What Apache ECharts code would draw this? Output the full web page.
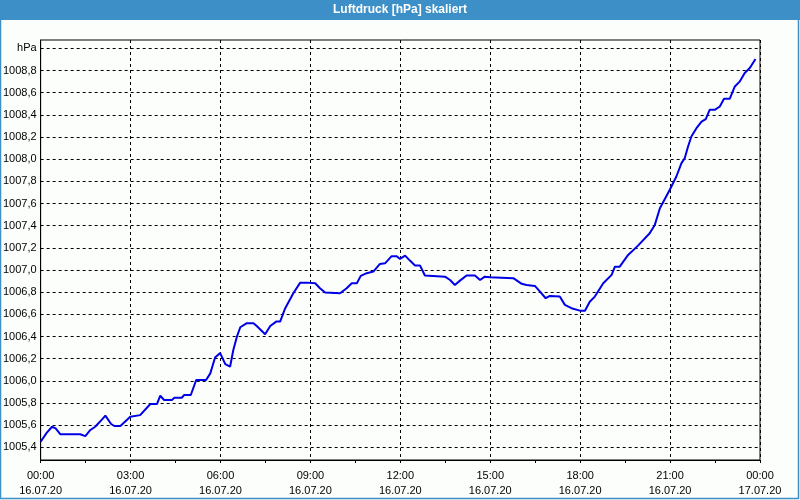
<!DOCTYPE html>
<html>
<head>
<meta charset="utf-8">
<script src="https://cdn.jsdelivr.net/npm/echarts@6/dist/echarts.min.js"></script>
<style>
html,body{margin:0;padding:0;background:#fcfefc;}
#c{width:800px;height:500px;}
</style>
</head>
<body>
<div id="c"></div>
<script>
// time in hours since 16.07.20 00:00
const times = [0.00,0.20,0.38,0.50,0.66,1.32,1.49,1.55,1.66,1.82,2.05,2.16,2.35,2.46,2.66,2.99,3.05,3.32,3.66,3.88,
  3.99,4.12,4.38,4.46,4.71,4.79,5.01,5.19,5.52,5.66,5.82,5.99,6.16,6.32,6.43,6.55,6.66,6.88,7.10,7.21,
  7.49,7.66,7.86,7.99,8.16,8.43,8.66,8.88,9.16,9.32,9.49,9.99,10.21,10.38,10.55,10.68,10.88,11.10,11.32,11.49,
  11.71,11.88,11.99,12.16,12.32,12.49,12.66,12.82,13.49,13.66,13.82,13.99,14.21,14.49,14.66,14.82,14.99,15.77,16.05,16.21,
  16.49,16.66,16.85,16.99,17.32,17.49,17.71,17.99,18.16,18.32,18.49,18.77,19.05,19.16,19.32,19.60,19.93,20.32,20.49,20.66,
  20.99,21.21,21.38,21.49,21.60,21.71,21.88,22.05,22.19,22.32,22.49,22.66,22.80,22.99,23.16,23.32,23.49,23.66,23.85];
const pressure = [1005.45,1005.53,1005.585,1005.57,1005.517,1005.517,1005.50,1005.50,1005.556,1005.585,1005.652,1005.685,1005.61,1005.592,1005.592,1005.676,1005.685,1005.69,1005.79,1005.79,
  1005.865,1005.827,1005.827,1005.847,1005.847,1005.872,1005.872,1006.007,1006.007,1006.067,1006.21,1006.25,1006.15,1006.127,1006.28,1006.40,1006.483,1006.52,1006.52,1006.495,
  1006.42,1006.495,1006.534,1006.534,1006.655,1006.79,1006.886,1006.886,1006.88,1006.835,1006.796,1006.79,1006.835,1006.88,1006.88,1006.947,1006.971,1006.986,1007.055,1007.06,
  1007.125,1007.125,1007.10,1007.13,1007.085,1007.04,1007.04,1006.95,1006.94,1006.91,1006.865,1006.904,1006.95,1006.95,1006.91,1006.94,1006.935,1006.926,1006.875,1006.865,
  1006.856,1006.805,1006.745,1006.766,1006.76,1006.685,1006.655,1006.633,1006.633,1006.714,1006.76,1006.88,1006.956,1007.03,1007.03,1007.136,1007.22,1007.332,1007.407,1007.558,
  1007.724,1007.844,1007.965,1008.01,1008.115,1008.205,1008.28,1008.34,1008.362,1008.446,1008.446,1008.476,1008.545,1008.545,1008.657,1008.70,1008.778,1008.823,1008.904];
const xTimeLabels = ['00:00','03:00','06:00','09:00','12:00','15:00','18:00','21:00','00:00'];
const xDateLabels = ['16.07.20','16.07.20','16.07.20','16.07.20','16.07.20','16.07.20','16.07.20','16.07.20','17.07.20'];
const yTickValues = [1005.4,1005.6,1005.8,1006.0,1006.2,1006.4,1006.6,1006.8,1007.0,1007.2,1007.4,1007.6,1007.8,1008.0,1008.2,1008.4,1008.6,1008.8,1009.0];
const title = 'Luftdruck [hPa] skaliert';
const unitLabel = 'hPa';

const FONT = '"Liberation Sans", Arial, sans-serif';
const chart = echarts.init(document.getElementById('c'), null, {renderer: 'canvas'});
const data = times.map((t, i) => [t, pressure[i]]);

chart.setOption({
  animation: false,
  backgroundColor: '#fcfefc',
  grid: {left: 40, right: 40, top: 40, bottom: 40, show: true, borderColor: '#000', borderWidth: 1, backgroundColor: 'transparent'},
  graphic: [
    {type: 'rect', left: 0, top: 0, shape: {width: 800, height: 20}, style: {fill: '#3d8fc7'}, z: 10},
    {type: 'rect', shape: {x: 0.5, y: 0.5, width: 798, height: 498}, style: {fill: 'none', stroke: '#3d8fc7', lineWidth: 1.5}, z: 11},
    {type: 'text', x: 400, y: 10, style: {text: title, fill: '#fff', font: 'bold 12px ' + FONT, align: 'center', verticalAlign: 'middle'}, z: 12}
  ],
  xAxis: {
    type: 'value', min: 0, max: 24, interval: 3,
    axisLine: {lineStyle: {color: '#000', width: 1}},
    axisTick: {show: true, length: 3, lineStyle: {color: '#000'}},
    minorTick: {show: true, splitNumber: 2, length: 3, lineStyle: {color: '#000'}},
    splitLine: {show: true, lineStyle: {color: '#000', type: [3, 3], width: 1}},
    axisLabel: {
      color: '#000', fontSize: 11, fontFamily: FONT, lineHeight: 15, margin: 8,
      formatter: v => { const i = Math.round(v / 3); return xTimeLabels[i] + '\n' + xDateLabels[i]; }
    }
  },
  yAxis: {
    type: 'value', min: 1005.285, max: 1009.076,
    axisLine: {show: true, lineStyle: {color: '#000', width: 1}},
    axisTick: {show: false, customValues: yTickValues},
    splitLine: {show: true, lineStyle: {color: '#000', type: [3, 3], width: 1}},
    axisLabel: {
      color: '#000', fontSize: 11, fontFamily: FONT, margin: 4,
      customValues: yTickValues,
      formatter: v => {
        if (Math.abs(v - 1009.0) < 1e-6) return unitLabel;
        return v.toFixed(1).replace('.', ',');
      }
    }
  },
  series: [{
    type: 'line', data: data, showSymbol: false, smooth: false,
    lineStyle: {color: '#0000e6', width: 2}, z: 5
  }]
});
</script>
</body>
</html>
